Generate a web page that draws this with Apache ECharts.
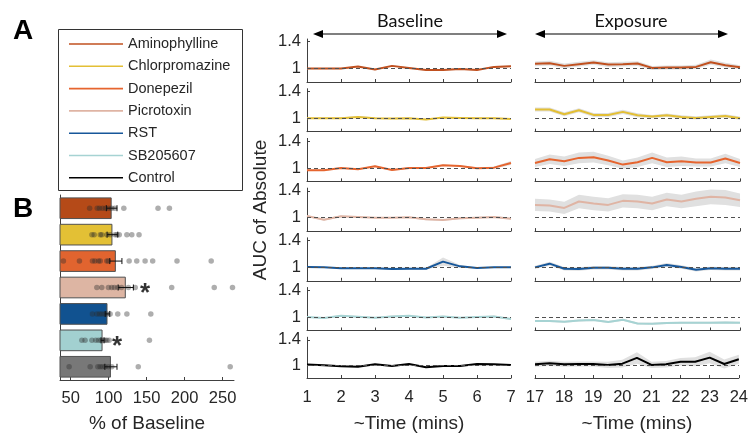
<!DOCTYPE html>
<html><head><meta charset="utf-8">
<script src="https://cdn.jsdelivr.net/npm/echarts@6/dist/echarts.min.js"></script>
<style>html,body{margin:0;padding:0;background:#fff}#c{width:751px;height:434px}</style>
</head><body><div id="c"></div>
<script>
// ---------- data ----------
const names = ['Aminophylline','Chlorpromazine','Donepezil','Picrotoxin','RST','SB205607','Control'];
const lineColors = ['#c0501f','#e3bf35','#e6652f','#dfb4a4','#17579a','#a6d3d3','#000000'];
const barColors  = ['#b54a18','#e3c035','#e1642f','#ddb5a3','#115290','#a2d0d0','#787878'];

const baseTime = [1,1.5,2,2.5,3,3.5,4,4.5,5,5.5,6,6.5,7];
const expTime  = [17,17.5,18,18.5,19,19.5,20,20.5,21,21.5,22,22.5,23,23.5,24];
const baseTicks = [1,2,3,4,5,6,7];
const expTicks = [17,18,19,20,21,22,23,24];
const yTicks = [1,1.4];
const pctTicks = [50,100,150,200,250];

// baseline AUC (normalised)
const baseAminophylline  = [1.00,1.00,1.00,1.03,0.985,1.04,1.01,0.98,0.98,0.995,0.98,1.025,1.035];
const baseChlorpromazine = [1.00,1.00,1.00,1.02,1.00,0.995,1.00,0.98,1.01,1.005,1.00,1.00,0.99];
const baseDonepezil      = [0.965,0.965,1.00,0.98,1.025,0.97,1.00,1.00,1.04,1.03,0.995,1.005,1.075];
const basePicrotoxin     = [1.025,0.97,1.02,1.01,1.00,1.00,1.005,0.975,0.965,0.99,1.00,1.01,0.985];
const baseRST            = [1.005,1.00,0.985,0.985,0.985,0.975,0.98,0.98,1.085,1.015,0.99,1.00,1.00];
const baseSB205607       = [1.00,0.985,1.02,1.005,0.99,1.01,1.02,0.995,1.01,0.99,1.00,1.01,0.97];
const baseControl        = [1.01,1.00,0.985,0.975,1.015,0.99,1.02,0.97,0.99,0.99,1.02,1.015,1.005];
// baseline SEM
const semBaseAminophylline  = [0.01,0.01,0.01,0.01,0.01,0.01,0.01,0.01,0.01,0.01,0.01,0.012,0.012];
const semBaseChlorpromazine = [0.01,0.01,0.01,0.012,0.01,0.01,0.01,0.01,0.01,0.01,0.01,0.01,0.01];
const semBaseDonepezil      = [0.012,0.012,0.01,0.01,0.01,0.01,0.01,0.01,0.012,0.012,0.012,0.015,0.03];
const semBasePicrotoxin     = [0.012,0.012,0.012,0.012,0.01,0.01,0.01,0.012,0.012,0.012,0.012,0.015,0.012];
const semBaseRST            = [0.01,0.01,0.01,0.01,0.01,0.01,0.01,0.012,0.06,0.02,0.01,0.01,0.01];
const semBaseSB205607       = [0.01,0.01,0.012,0.01,0.01,0.012,0.012,0.01,0.01,0.01,0.01,0.012,0.012];
const semBaseControl        = [0.008,0.008,0.008,0.008,0.008,0.008,0.008,0.008,0.008,0.008,0.008,0.008,0.008];

// exposure AUC (normalised)
const expAminophylline  = [1.07,1.08,1.04,1.065,1.09,1.06,1.065,1.075,1.01,1.015,1.015,1.025,1.095,1.05,1.02];
const expChlorpromazine = [1.13,1.13,1.06,1.12,1.05,1.05,1.095,1.045,1.025,1.045,1.02,1.005,1.02,1.035,1.00];
const expDonepezil      = [1.075,1.13,1.10,1.15,1.16,1.11,1.05,1.085,1.15,1.085,1.10,1.08,1.08,1.14,1.075];
const expPicrotoxin     = [1.19,1.18,1.145,1.24,1.21,1.19,1.25,1.24,1.21,1.27,1.24,1.28,1.31,1.30,1.26];
const expRST            = [1.00,1.055,0.98,0.975,0.995,0.995,0.98,0.98,1.00,1.035,1.005,0.965,0.985,0.98,0.98];
const expSB205607       = [0.94,0.94,0.93,0.95,0.955,0.925,0.96,0.905,0.90,0.91,0.915,0.915,0.915,0.92,0.915];
const expControl        = [1.015,1.03,1.015,1.02,1.02,1.005,1.025,1.115,1.005,1.015,1.055,1.055,1.12,1.02,1.095];
// exposure SEM
const semExpAminophylline  = [0.035,0.035,0.035,0.035,0.035,0.035,0.035,0.035,0.03,0.03,0.03,0.03,0.04,0.035,0.03];
const semExpChlorpromazine = [0.03,0.03,0.03,0.03,0.03,0.03,0.03,0.03,0.025,0.025,0.025,0.025,0.025,0.025,0.025];
const semExpDonepezil      = [0.06,0.07,0.07,0.08,0.08,0.07,0.06,0.07,0.08,0.07,0.07,0.06,0.06,0.07,0.06];
const semExpPicrotoxin     = [0.09,0.09,0.09,0.1,0.1,0.1,0.1,0.1,0.1,0.1,0.1,0.11,0.11,0.11,0.1];
const semExpRST            = [0.025,0.03,0.025,0.025,0.025,0.025,0.025,0.025,0.025,0.03,0.025,0.025,0.025,0.025,0.025];
const semExpSB205607       = [0.015,0.015,0.015,0.015,0.015,0.015,0.015,0.015,0.015,0.015,0.015,0.015,0.015,0.015,0.015];
const semExpControl        = [0.04,0.04,0.04,0.04,0.04,0.05,0.06,0.09,0.05,0.05,0.06,0.07,0.09,0.07,0.07];

// panel B: % of baseline
const barMeans = [104, 105, 109.5, 122.6, 98.5, 92, 103];
const barErr   = [7, 7, 8, 10, 3, 2, 8];
const dotsAminophylline  = [75,85,88,92,96,100,104,108,120,165,180];
const dotsChlorpromazine = [78,81,89,91,97.6,102,108.5,110.8,114,124,130.5,140];
const dotsDonepezil      = [40.5,61.6,78.7,82,86.6,89,97.6,99.7,127,137,148,158,190,235];
const dotsPicrotoxin     = [84.5,91,99.7,104,107.6,112,117,126,135,183,239,263];
const dotsRST            = [78.7,84.5,88,91,94.5,97.6,102,112,124,155.5];
const dotsSB205607       = [64.7,69,78,83,86.6,89.7,93,95.4,97.6,100.7,153.7];
const dotsControl        = [48,75.7,85.8,88.8,91.8,95.4,99.7,104.2,139,260];
const sigRows = [3, 5];
const sigX    = [148, 111];

// ---------- build ----------
const baseVals = [baseAminophylline,baseChlorpromazine,baseDonepezil,basePicrotoxin,baseRST,baseSB205607,baseControl];
const baseSem  = [semBaseAminophylline,semBaseChlorpromazine,semBaseDonepezil,semBasePicrotoxin,semBaseRST,semBaseSB205607,semBaseControl];
const expVals  = [expAminophylline,expChlorpromazine,expDonepezil,expPicrotoxin,expRST,expSB205607,expControl];
const expSem   = [semExpAminophylline,semExpChlorpromazine,semExpDonepezil,semExpPicrotoxin,semExpRST,semExpSB205607,semExpControl];
const dots = [dotsAminophylline,dotsChlorpromazine,dotsDonepezil,dotsPicrotoxin,dotsRST,dotsSB205607,dotsControl];

const FONT = 'Liberation Sans';
const AX = '#404040';
const TXT = '#262626';

const grids = [{left:60, top:195, width:174, height:187}];
const xAxes = [{
  gridIndex:0, type:'value', min:36, max:265,
  axisLine:{show:true, lineStyle:{color:AX}},
  axisTick:{show:true, inside:true, length:3, customValues:pctTicks, lineStyle:{color:AX}},
  axisLabel:{customValues:pctTicks, fontFamily:FONT, fontSize:16.5, color:TXT, margin:10},
  splitLine:{show:false},
  name:'% of Baseline', nameLocation:'middle', nameGap:34,
  nameTextStyle:{fontFamily:FONT, fontSize:19, color:TXT}
}];
const yAxes = [{
  gridIndex:0, type:'category', data:names, inverse:true,
  axisLine:{show:true, lineStyle:{color:AX}},
  axisTick:{show:true, inside:true, length:3, alignWithLabel:true, lineStyle:{color:AX}},
  axisLabel:{show:false}, splitLine:{show:false}
}];
const series = [];

series.push({type:'bar', xAxisIndex:0, yAxisIndex:0, barWidth:'82%', z:2,
  data: barMeans.map((v,i)=>({value:v, itemStyle:{color:barColors[i]}})),
  itemStyle:{borderColor:'#505050', borderWidth:1}, silent:true});
const dotData = [];
dots.forEach((arr,i)=>arr.forEach(v=>dotData.push([v, i])));
series.push({type:'scatter', xAxisIndex:0, yAxisIndex:0, data:dotData, symbolSize:5.5, z:3,
  itemStyle:{color:'rgba(45,45,45,0.48)'}, silent:true});
series.push({type:'custom', xAxisIndex:0, yAxisIndex:0, z:4,
  data: barMeans.map((m,i)=>[m-barErr[i], i, m+barErr[i]]),
  encode:{x:[0,2], y:1},
  renderItem:function(params, api){
    const a = api.coord([api.value(0), api.value(1)]);
    const b = api.coord([api.value(2), api.value(1)]);
    const st = {stroke:'#111', lineWidth:1};
    return {type:'group', children:[
      {type:'line', shape:{x1:a[0],y1:a[1],x2:b[0],y2:b[1]}, style:st},
      {type:'line', shape:{x1:a[0],y1:a[1]-3,x2:a[0],y2:a[1]+3}, style:st},
      {type:'line', shape:{x1:b[0],y1:b[1]-3,x2:b[0],y2:b[1]+3}, style:st}
    ]};
  }, silent:true});
series.push({type:'scatter', xAxisIndex:0, yAxisIndex:0, z:5, symbolSize:1,
  itemStyle:{color:'rgba(0,0,0,0)'},
  data: sigRows.map((r,k)=>[sigX[k], r]),
  label:{show:true, position:'inside', formatter:'*', fontFamily:FONT, fontWeight:'bold', fontSize:26, color:'#000', offset:[0,6]},
  silent:true});

function bandSeries(gi, t, v, s){
  const pts = t.map((x,k)=>[x, v[k]-s[k], v[k]+s[k]]);
  return {type:'custom', xAxisIndex:gi, yAxisIndex:gi, z:1, silent:true,
    data: pts, encode:{x:0, y:[1,2]},
    renderItem:function(params, api){
      if (params.dataIndex !== 0) return null;
      const up = pts.map(p=>api.coord([p[0], p[2]]));
      const lo = pts.map(p=>api.coord([p[0], p[1]])).reverse();
      return {type:'polygon', shape:{points: up.concat(lo)}, style:{fill:'#e0e0e0', stroke:null}};
    }};
}

for (let i=0;i<7;i++){
  const bottom = 82 + 49.7*i;
  const top = bottom - 43;
  const last = (i===6);
  [['b',307,204,1,7,baseTicks,baseTime,baseVals[i],baseSem[i]],
   ['e',535,205,17,24,expTicks,expTime,expVals[i],expSem[i]]].forEach(p=>{
    const gi = grids.length;
    grids.push({left:p[1], top:top, width:p[2], height:43});
    xAxes.push({gridIndex:gi, type:'value', min:p[3], max:p[4], interval:1,
      axisLine:{show:true, lineStyle:{color:AX}},
      axisTick:{show:true, inside:true, length:3, lineStyle:{color:AX}},
      axisLabel:{show:last, fontFamily:FONT, fontSize:16.5, color:TXT, margin:11},
      splitLine:{show:false},
      name: last ? '~Time (mins)' : '', nameLocation:'middle', nameGap:36,
      nameTextStyle:{fontFamily:FONT, fontSize:19, color:TXT}});
    const isBase = p[0]==='b';
    yAxes.push({gridIndex:gi, type:'value', min:0.8, max:1.44,
      axisLine:{show:isBase, lineStyle:{color:AX}},
      axisTick:{show:isBase, inside:true, length:3, customValues:yTicks, lineStyle:{color:AX}},
      axisLabel:{show:isBase, customValues:yTicks, fontFamily:FONT, fontSize:16.5, color:TXT, margin:6},
      splitLine:{show:false}});
    const t = p[6], v = p[7], s = p[8];
    series.push(bandSeries(gi, t, v, s));
    series.push({type:'line', xAxisIndex:gi, yAxisIndex:gi, symbol:'none', silent:true, z:3,
      lineStyle:{color:lineColors[i], width:2}, data:t.map((x,k)=>[x, v[k]]),
      markLine:{silent:true, symbol:'none', label:{show:false}, animation:false,
        lineStyle:{type:[4,3], color:'#505050', width:1}, data:[{yAxis:1}]}});
  });
}

// legend + annotations as graphics
const graphic = [];
graphic.push({type:'rect', shape:{x:58.5, y:29.5, width:184, height:161}, style:{fill:'#fff', stroke:'#333', lineWidth:1}, z:10});
names.forEach((n,i)=>{
  const y = 44 + 22.3*i;
  graphic.push({type:'line', shape:{x1:69, y1:y, x2:123, y2:y}, style:{stroke:lineColors[i], lineWidth:1.6}, z:11});
  graphic.push({type:'text', x:128, y:y, style:{text:n, font:'14.5px "Liberation Sans"', fill:TXT, textVerticalAlign:'middle'}, z:11});
});
graphic.push({type:'text', x:13, y:17, style:{text:'A', font:'bold 28px "Liberation Sans"', fill:'#000'}});
graphic.push({type:'text', x:13, y:195, style:{text:'B', font:'bold 28px "Liberation Sans"', fill:'#000'}});
graphic.push({type:'text', x:261, y:210, rotation:Math.PI/2, style:{text:'AUC of Absolute', font:'19px "Liberation Sans"', fill:TXT, textAlign:'center', textVerticalAlign:'middle'}});
function arrow(x1,x2,y){
  graphic.push({type:'line', shape:{x1:x1+6, y1:y, x2:x2-6, y2:y}, style:{stroke:'#000', lineWidth:1.2}});
  graphic.push({type:'polygon', shape:{points:[[x1,y],[x1+10,y-4],[x1+10,y+4]]}, style:{fill:'#000'}});
  graphic.push({type:'polygon', shape:{points:[[x2,y],[x2-10,y-4],[x2-10,y+4]]}, style:{fill:'#000'}});
}
arrow(313,507,34); arrow(535,728,34);
graphic.push({type:'text', x:410, y:21, style:{text:'Baseline', font:'18px Lato', fill:'#111', textAlign:'center', textVerticalAlign:'middle'}});
graphic.push({type:'text', x:631, y:21, style:{text:'Exposure', font:'18px Lato', fill:'#111', textAlign:'center', textVerticalAlign:'middle'}});

const chart = echarts.init(document.getElementById('c'), null, {renderer:'canvas'});
chart.setOption({backgroundColor:'#fff', animation:false, grid:grids, xAxis:xAxes, yAxis:yAxes, series:series, graphic:graphic});
</script></body></html>
